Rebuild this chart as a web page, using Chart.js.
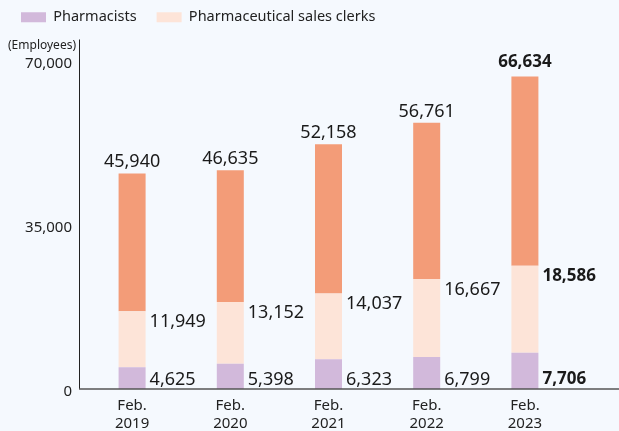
<!DOCTYPE html>
<html>
<head>
<meta charset="utf-8">
<script src="https://cdn.jsdelivr.net/npm/chart.js@4.4.1/dist/chart.umd.min.js"></script>
<style>
  html, body { margin: 0; padding: 0; background: #f5f9fe; }
  #wrap { width: 619px; height: 431px; }
</style>
</head>
<body>
<div id="wrap"><canvas id="chart" width="619" height="431"></canvas></div>
<script>
// Employees by year
const categories = [['Feb.', '2019'], ['Feb.', '2020'], ['Feb.', '2021'], ['Feb.', '2022'], ['Feb.', '2023']];
const pharmacists = [4625, 5398, 6323, 6799, 7706];
const salesClerks = [11949, 13152, 14037, 16667, 18586];
const others = [29366, 28085, 31798, 33295, 40342];
const totals = [45940, 46635, 52158, 56761, 66634];
const yTicks = [0, 35000, 70000];

const FONT = '"Noto Sans", "Open Sans", sans-serif';
const fmt = v => v.toLocaleString('en-US');
const AXIS_X = 79.5;

// value labels, axis lines and unit
const valueLabels = {
    id: 'valueLabels',
    afterDatasetsDraw(chart) {
        const ctx = chart.ctx;
        const low = chart.getDatasetMeta(0).data;
        const mid = chart.getDatasetMeta(1).data;
        const top = chart.getDatasetMeta(2).data;
        const area = chart.chartArea;

        ctx.save();
        // axes: y line sits a little left of the plot area, baseline runs to the edge
        ctx.strokeStyle = '#222';
        ctx.lineWidth = 1;
        ctx.beginPath();
        ctx.moveTo(AXIS_X, area.top);
        ctx.lineTo(AXIS_X, area.bottom);
        ctx.stroke();
        ctx.strokeStyle = '#555';
        ctx.lineWidth = 1.5;
        ctx.beginPath();
        ctx.moveTo(AXIS_X - 0.5, area.bottom);
        ctx.lineTo(chart.width, area.bottom);
        ctx.stroke();

        ctx.fillStyle = '#1a1a1a';
        ctx.textBaseline = 'alphabetic';
        totals.forEach((t, i) => {
            const last = i === totals.length - 1;
            ctx.font = last ? 'bold 17px ' + FONT : '18px ' + FONT;
            const right = low[i].x + low[i].width / 2 + 4;
            ctx.textAlign = 'center';
            ctx.fillText(fmt(t), top[i].x, top[i].y - (last ? 9 : 6));
            ctx.textAlign = 'left';
            ctx.fillText(fmt(salesClerks[i]), right, mid[i].y + (last ? 15 : 16));
            ctx.fillText(fmt(pharmacists[i]), right, low[i].base - (last ? 5 : 4));
        });

        ctx.font = '12px ' + FONT;
        ctx.textAlign = 'right';
        ctx.fillStyle = '#222';
        ctx.fillText('(Employees)', 76, 49);
        ctx.restore();
    }
};

new Chart(document.getElementById('chart'), {
    type: 'bar',
    data: {
        labels: categories,
        datasets: [
            { label: 'Pharmacists', data: pharmacists, backgroundColor: '#d2b9db', xAxisID: 'x', yAxisID: 'y' },
            { label: 'Pharmaceutical sales clerks', data: salesClerks, backgroundColor: '#fde4d8', xAxisID: 'x', yAxisID: 'y' },
            { label: 'Others', data: others, backgroundColor: '#f39c78', xAxisID: 'x', yAxisID: 'y' }
        ]
    },
    options: {
        responsive: false,
        animation: false,
        layout: { padding: { top: -10, left: 1, right: 45, bottom: 0 } },
        datasets: {
            bar: { barPercentage: 0.275, categoryPercentage: 1, borderWidth: 0 }
        },
        plugins: {
            tooltip: { enabled: false },
            legend: {
                position: 'top',
                align: 'start',
                labels: {
                    filter: item => item.datasetIndex < 2,
                    boxWidth: 25,
                    boxHeight: 10,
                    padding: 20,
                    color: '#222',
                    font: { family: FONT, size: 14.5 }
                }
            }
        },
        scales: {
            x: {
                stacked: true,
                grid: { display: false, drawTicks: false },
                border: { display: false },
                ticks: {
                    color: '#222',
                    padding: 7,
                    maxRotation: 0,
                    font: { family: FONT, size: 15, lineHeight: 1.25 }
                },
                afterFit(s) { s.height = 42; }
            },
            y: {
                stacked: true,
                min: 0,
                max: 74500,
                grid: { display: false, drawTicks: false },
                border: { display: false },
                afterBuildTicks(s) { s.ticks = yTicks.map(v => ({ value: v })); },
                ticks: {
                    color: '#222',
                    padding: 11,
                    labelOffset: 3,
                    font: { family: FONT, size: 15 },
                    callback: v => fmt(v)
                },
                afterFit(s) { s.width = 82; }
            },
            spacer: {
                type: 'linear',
                position: 'top',
                grid: { display: false },
                ticks: { display: false },
                border: { display: false },
                afterFit(s) { s.height = 5; }
            }
        }
    },
    plugins: [valueLabels]
});
</script>
</body>
</html>
